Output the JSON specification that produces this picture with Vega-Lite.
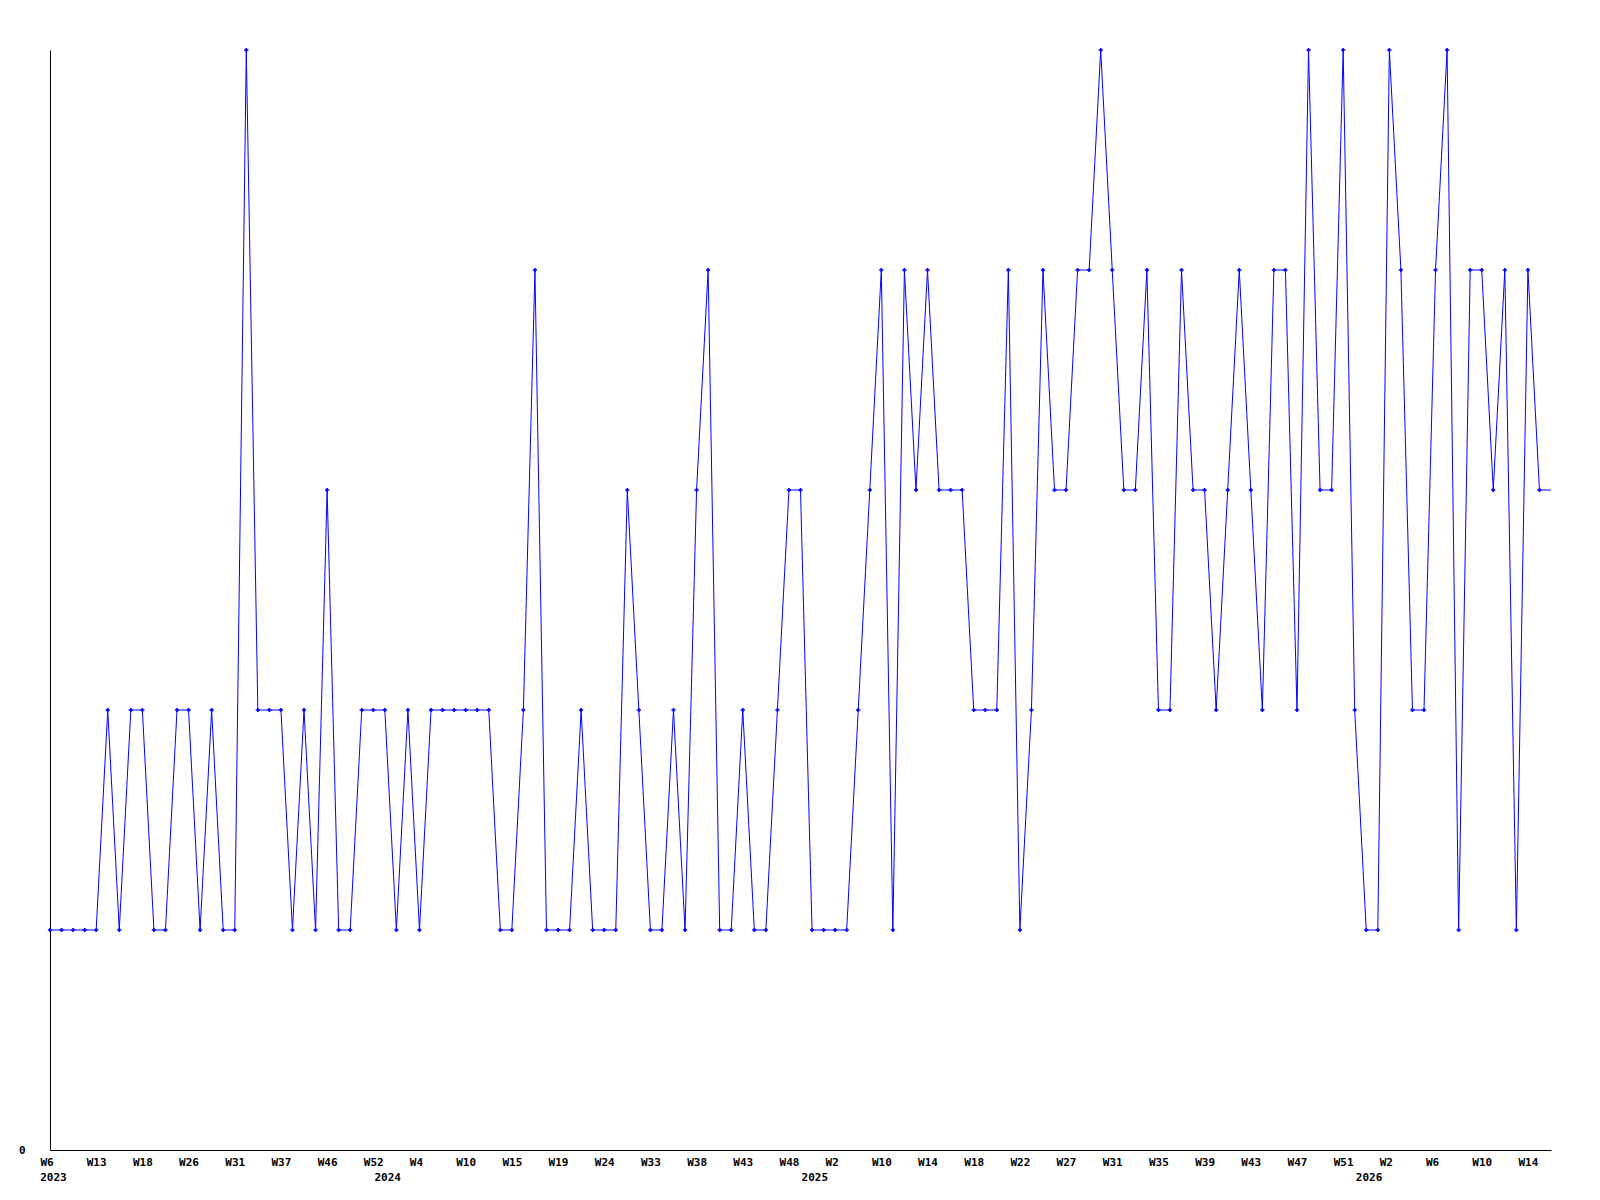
{
  "$schema": "https://vega.github.io/schema/vega-lite/v6.json",
  "width": 1501,
  "height": 1100,
  "autosize": {"type": "none"},
  "padding": {"left": 50, "top": 50, "right": 49, "bottom": 50},
  "background": "white",
  "config": {"view": {"stroke": null}},
  "data": {"values": [
    {"i":0,"v":1},{"i":1,"v":1},{"i":2,"v":1},{"i":3,"v":1},{"i":4,"v":1},{"i":5,"v":2},{"i":6,"v":1},{"i":7,"v":2},{"i":8,"v":2},{"i":9,"v":1},
    {"i":10,"v":1},{"i":11,"v":2},{"i":12,"v":2},{"i":13,"v":1},{"i":14,"v":2},{"i":15,"v":1},{"i":16,"v":1},{"i":17,"v":5},{"i":18,"v":2},{"i":19,"v":2},
    {"i":20,"v":2},{"i":21,"v":1},{"i":22,"v":2},{"i":23,"v":1},{"i":24,"v":3},{"i":25,"v":1},{"i":26,"v":1},{"i":27,"v":2},{"i":28,"v":2},{"i":29,"v":2},
    {"i":30,"v":1},{"i":31,"v":2},{"i":32,"v":1},{"i":33,"v":2},{"i":34,"v":2},{"i":35,"v":2},{"i":36,"v":2},{"i":37,"v":2},{"i":38,"v":2},{"i":39,"v":1},
    {"i":40,"v":1},{"i":41,"v":2},{"i":42,"v":4},{"i":43,"v":1},{"i":44,"v":1},{"i":45,"v":1},{"i":46,"v":2},{"i":47,"v":1},{"i":48,"v":1},{"i":49,"v":1},
    {"i":50,"v":3},{"i":51,"v":2},{"i":52,"v":1},{"i":53,"v":1},{"i":54,"v":2},{"i":55,"v":1},{"i":56,"v":3},{"i":57,"v":4},{"i":58,"v":1},{"i":59,"v":1},
    {"i":60,"v":2},{"i":61,"v":1},{"i":62,"v":1},{"i":63,"v":2},{"i":64,"v":3},{"i":65,"v":3},{"i":66,"v":1},{"i":67,"v":1},{"i":68,"v":1},{"i":69,"v":1},
    {"i":70,"v":2},{"i":71,"v":3},{"i":72,"v":4},{"i":73,"v":1},{"i":74,"v":4},{"i":75,"v":3},{"i":76,"v":4},{"i":77,"v":3},{"i":78,"v":3},{"i":79,"v":3},
    {"i":80,"v":2},{"i":81,"v":2},{"i":82,"v":2},{"i":83,"v":4},{"i":84,"v":1},{"i":85,"v":2},{"i":86,"v":4},{"i":87,"v":3},{"i":88,"v":3},{"i":89,"v":4},
    {"i":90,"v":4},{"i":91,"v":5},{"i":92,"v":4},{"i":93,"v":3},{"i":94,"v":3},{"i":95,"v":4},{"i":96,"v":2},{"i":97,"v":2},{"i":98,"v":4},{"i":99,"v":3},
    {"i":100,"v":3},{"i":101,"v":2},{"i":102,"v":3},{"i":103,"v":4},{"i":104,"v":3},{"i":105,"v":2},{"i":106,"v":4},{"i":107,"v":4},{"i":108,"v":2},{"i":109,"v":5},
    {"i":110,"v":3},{"i":111,"v":3},{"i":112,"v":5},{"i":113,"v":2},{"i":114,"v":1},{"i":115,"v":1},{"i":116,"v":5},{"i":117,"v":4},{"i":118,"v":2},{"i":119,"v":2},
    {"i":120,"v":4},{"i":121,"v":5},{"i":122,"v":1},{"i":123,"v":4},{"i":124,"v":4},{"i":125,"v":3},{"i":126,"v":4},{"i":127,"v":1},{"i":128,"v":4},{"i":129,"v":3},
    {"i":130,"v":3}
  ]},
  "encoding": {
    "x": {
      "field": "i",
      "type": "quantitative",
      "scale": {"domain": [0, 130], "nice": false, "zero": false},
      "axis": {
        "title": null,
        "grid": false,
        "ticks": false,
        "tickSize": 0,
        "domainColor": "black",
        "domainWidth": 1,
        "labelFont": "DejaVu Sans Mono",
        "labelFontWeight": "bold",
        "labelFontSize": 11,
        "labelColor": "black",
        "labelPadding": 6,
        "labelBaseline": "top",
        "labelAlign": "center",
        "labelLineHeight": 15,
        "labelOverlap": false,
        "labelFlush": false,
        "labelBound": false,
        "labelOffset": {"condition": {"test": "datum.value == 0 || datum.value == 32 || datum.value == 68 || datum.value == 116 || datum.value == 120", "value": -3.5}, "value": 0},
        "values": [0, 0.25, 4, 8, 12, 16, 20, 24, 28, 29.2, 32, 36, 40, 44, 48, 52, 56, 60, 64, 66.2, 68, 72, 76, 80, 84, 88, 92, 96, 100, 104, 108, 112, 114.2, 116, 120, 124, 128],
        "labelExpr": "datum.value == 0.25 ? ['', '2023'] : datum.value == 29.2 ? ['', '2024'] : datum.value == 66.2 ? ['', '2025'] : datum.value == 114.2 ? ['', '2026'] : ['W6','W13','W18','W26','W31','W37','W46','W52','W4','W10','W15','W19','W24','W33','W38','W43','W48','W2','W10','W14','W18','W22','W27','W31','W35','W39','W43','W47','W51','W2','W6','W10','W14'][round(datum.value / 4)]"
      }
    },
    "y": {
      "field": "v",
      "type": "quantitative",
      "scale": {"domain": [0, 5], "nice": false, "zero": true},
      "axis": {
        "title": null,
        "grid": false,
        "ticks": false,
        "tickSize": 0,
        "values": [0],
        "domainColor": "black",
        "domainWidth": 1,
        "labelFont": "DejaVu Sans Mono",
        "labelFontWeight": "bold",
        "labelFontSize": 11,
        "labelColor": "black",
        "labelAlign": "right",
        "labelBaseline": "middle",
        "labelPadding": 25
      }
    }
  },
  "layer": [
    {
      "mark": {"type": "line", "color": "#0000ff", "strokeWidth": 1, "interpolate": "linear"}
    },
    {
      "transform": [{"filter": "datum.i <= 129"}],
      "mark": {"type": "point", "shape": "cross", "filled": true, "size": 18, "color": "#0000ff", "opacity": 1}
    }
  ]
}
